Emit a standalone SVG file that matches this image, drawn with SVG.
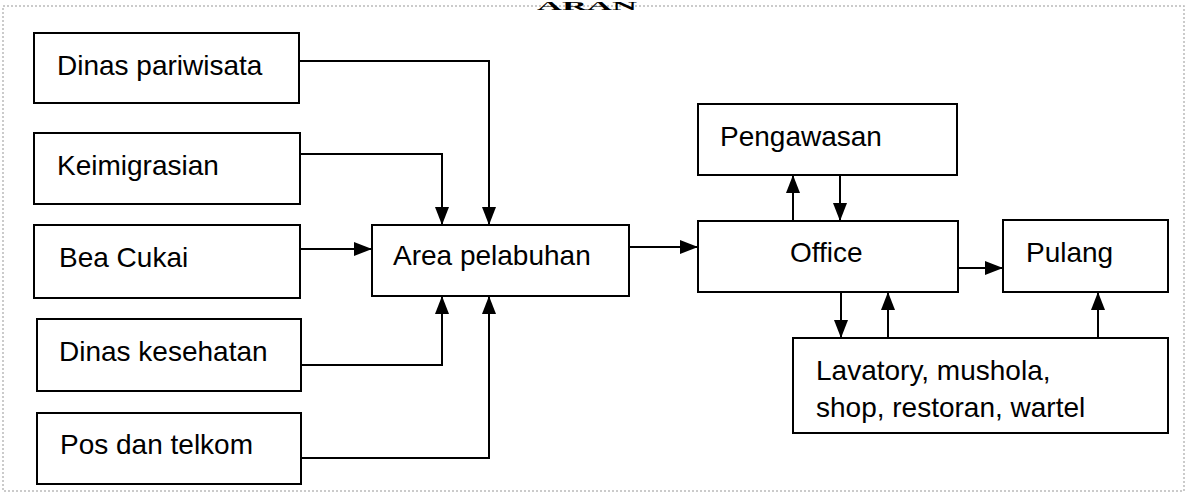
<svg xmlns="http://www.w3.org/2000/svg" width="1190" height="500" viewBox="0 0 1190 500">
<style>
.box{fill:#fff;stroke:#000;stroke-width:2}
.lbl{font-family:"Liberation Sans",Arial,sans-serif;font-size:28px;fill:#000}
.con{fill:none;stroke:#000;stroke-width:2}
.frame{fill:none;stroke:#bbb;stroke-width:1.5;stroke-dasharray:2 2}
</style>
<defs>
<marker id="ah" viewBox="0 0 18 14" refX="18" refY="7" markerWidth="18" markerHeight="14" markerUnits="userSpaceOnUse" orient="auto">
<path d="M0,0 L18,7 L0,14 Z" fill="#000"/>
</marker>
</defs>
<rect width="1190" height="500" fill="#fff"/>
<rect class="frame" x="3" y="6" width="1181" height="485"/>
<text x="537" y="10" font-family="Liberation Serif,serif" font-weight="bold" font-size="12" fill="#000" textLength="100" lengthAdjust="spacingAndGlyphs">ARAN</text>

<g id="dinas-pariwisata"><rect class="box" x="34" y="33" width="265" height="70"/><text class="lbl" x="57" y="75">Dinas pariwisata</text></g>
<g id="keimigrasian"><rect class="box" x="34" y="133" width="266" height="71"/><text class="lbl" x="57" y="175">Keimigrasian</text></g>
<g id="bea-cukai"><rect class="box" x="34" y="225" width="266" height="73"/><text class="lbl" x="59" y="267">Bea Cukai</text></g>
<g id="dinas-kesehatan"><rect class="box" x="37" y="319" width="264" height="72"/><text class="lbl" x="59" y="361">Dinas kesehatan</text></g>
<g id="pos-dan-telkom"><rect class="box" x="37" y="413" width="264" height="71"/><text class="lbl" x="60" y="454">Pos dan telkom</text></g>
<g id="area-pelabuhan"><rect class="box" x="372" y="225" width="257" height="71"/><text class="lbl" x="393" y="265">Area pelabuhan</text></g>
<g id="pengawasan"><rect class="box" x="698" y="104" width="259" height="71"/><text class="lbl" x="720" y="146">Pengawasan</text></g>
<g id="office"><rect class="box" x="698" y="221" width="260" height="71"/><text class="lbl" x="790" y="262">Office</text></g>
<g id="pulang"><rect class="box" x="1003" y="220" width="165" height="72"/><text class="lbl" x="1026" y="262">Pulang</text></g>
<g id="fasilitas"><rect class="box" x="793" y="338" width="375" height="95"/><text class="lbl" x="816" y="380">Lavatory, mushola,</text><text class="lbl" x="816" y="417">shop, restoran, wartel</text></g>

<g id="connectors">
<path class="con" d="M299,61 H489 V225" marker-end="url(#ah)"/>
<path class="con" d="M300,154 H442 V225" marker-end="url(#ah)"/>
<path class="con" d="M300,249 H372" marker-end="url(#ah)"/>
<path class="con" d="M301,365 H442 V296" marker-end="url(#ah)"/>
<path class="con" d="M301,458 H489 V296" marker-end="url(#ah)"/>
<path class="con" d="M629,247 H698" marker-end="url(#ah)"/>
<path class="con" d="M793,221 V175" marker-end="url(#ah)"/>
<path class="con" d="M840,175 V221" marker-end="url(#ah)"/>
<path class="con" d="M958,268 H1003" marker-end="url(#ah)"/>
<path class="con" d="M841,292 V338" marker-end="url(#ah)"/>
<path class="con" d="M888,338 V292" marker-end="url(#ah)"/>
<path class="con" d="M1098,338 V292" marker-end="url(#ah)"/>
</g>
</svg>
